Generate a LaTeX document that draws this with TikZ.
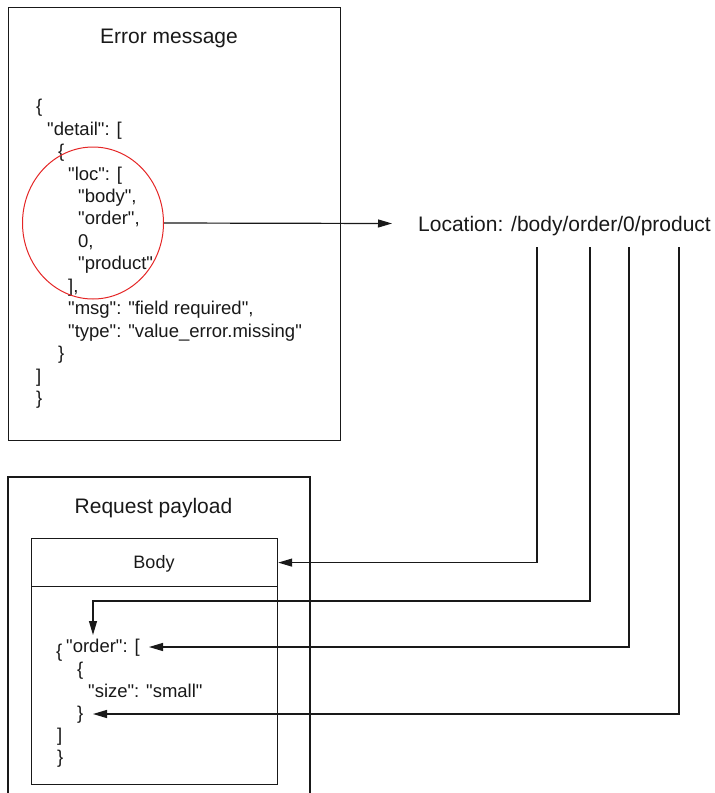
\documentclass[tikz,border=0pt]{standalone}
\usepackage{fontspec}
\setmainfont{Liberation Sans}
\newfontfamily\jf{Liberation Sans}
\usetikzlibrary{arrows.meta,shapes.geometric}
\definecolor{ink}{RGB}{25,25,25}
\definecolor{circred}{RGB}{228,38,38}
\tikzset{
  boxline/.style={draw=ink, line width=1.2pt},
  jt/.style={anchor=base west, inner sep=0pt, text=ink, font=\jf\fontsize{18.5}{22}\selectfont},
  title/.style={anchor=base, inner sep=0pt, text=ink, font=\jf\fontsize{21}{25}\selectfont},
  conn/.style={draw=ink, line width=1.2pt},
  arr/.style={conn, -{Triangle[length=14pt,width=8pt]}},
}
\begin{document}
\begin{tikzpicture}[x=1pt,y=-1pt]
\useasboundingbox (0,0) rectangle (715,793);
% --- Error message box
\node[boxline, anchor=north west, minimum width=332pt, minimum height=433pt, inner sep=0pt] (errbox) at (8,7) {};
\node[title] (errtitle) at (169,43) {Error message};
\node[jt] (e0) at (36,112.5) {\{};
\node[jt] (e1) at (47,135) {"detail": [};
\node[jt] (e2) at (58,157) {\{};
\node[jt] (e3) at (68,180) {"loc": [};
\node[jt] (e4) at (78,202) {"body",};
\node[jt] (e5) at (78,224.5) {"order",};
\node[jt] (e6) at (78,247) {0,};
\node[jt] (e7) at (78,269) {"product"};
\node[jt] (e8) at (68,292) {],};
\node[jt] (e9) at (68,314) {"msg": "field required",};
\node[jt] (e10) at (68,337) {"type": "value\_error.missing"};
\node[jt] (e11) at (58,359) {\}};
\node[jt] (e12) at (36,382) {]};
\node[jt] (e13) at (36,404) {\}};
\node[draw=circred, line width=1pt, ellipse, minimum width=141pt, minimum height=152pt, inner sep=0pt] (loccirc) at (93,223) {};
% --- Location
\node[jt, font=\jf\fontsize{21}{25}\selectfont] (loc) at (418,231) {Location: /body/order/0/product};
\coordinate (loctip) at (392,223.5);
\draw[arr] (loccirc.east) -- (loctip);
% --- Request payload box (open at the bottom)
\draw[boxline] (8,800) |- (310,477) -- (310,800);
\node[title] (reqtitle) at (153.5,513) {Request payload};
\node[boxline, anchor=north west, minimum width=246pt, minimum height=246pt, inner sep=0pt] (bodybox) at (31,538) {};
\node[boxline, anchor=north west, minimum width=246pt, minimum height=48pt, inner sep=0pt] (bodyhdr) at (31,538) {};
\node[title, font=\jf\fontsize{18}{22}\selectfont] (bodytxt) at (154,568) {Body};
\node[jt] (b0) at (56,657) {\{};
\node[jt] (b1) at (66,652) {"order": [};
\node[jt] (b2) at (77,675) {\{};
\node[jt] (b3) at (88,697) {"size": "small"};
\node[jt] (b4) at (77,719) {\}};
\node[jt] (b5) at (57,741) {]};
\node[jt] (b6) at (57,763) {\}};
% --- connectors
\coordinate (v1) at (537,247);
\coordinate (v2) at (590,247);
\coordinate (v3) at (629,247);
\coordinate (v4) at (679,247);
\coordinate (t2) at (93,635);
\coordinate (t3) at (149,647);
\coordinate (t4) at (93,714);
\draw[arr] (v1) |- (bodyhdr.east);
\draw[arr] (v2) |- (93,601) -- (t2);
\draw[arr] (v3) |- (t3);
\draw[arr] (v4) |- (t4);
\end{tikzpicture}
\end{document}
